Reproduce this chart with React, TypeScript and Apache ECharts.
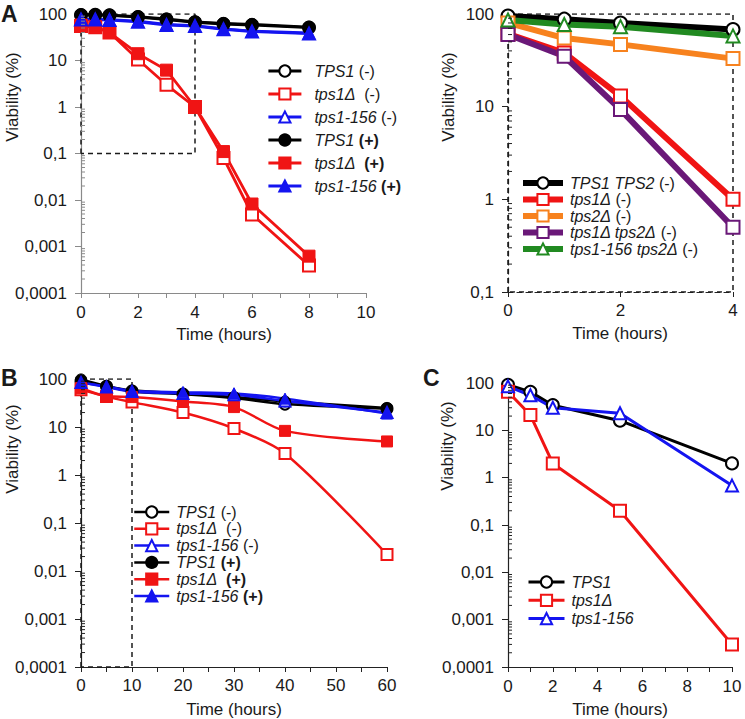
import React, { useEffect, useRef } from 'react';
import * as echarts from 'echarts';

// ---------- Panel A (left) ----------
const timeA = [0, 0.5, 1, 2, 3, 4, 5, 6, 8];
const aTPS1Minus = [95, 96, 94, 86, 76, 66, 61, 58, 51];
const aTPS1Plus = [97, 97, 95, 88, 78, 68, 63, 60, 52];
const aTps1dMinus = [55, 52, 40, 10.5, 3.0, 1.0, 0.08, 0.0049, 0.00039];
const aTps1dPlus = [58, 53, 40, 14, 6.2, 1.0, 0.11, 0.0082, 0.00062];
const aTps156Minus = [76, 76, 74, 68, 58, 55, 47, 42, 38];
const aTps156Plus = [78, 77, 76, 70, 60, 56, 48, 43, 39];
const zoomBoxA = { x: [0, 4], y: [0.1, 100] };

// ---------- Panel A (right, zoom) ----------
const timeR = [0, 1, 2, 4];
const rTPS1TPS2 = [95, 88, 80, 68];
const rTps1d = [61, 38, 13, 1.0];
const rTps2d = [80, 55, 47, 33];
const rTps1dTps2d = [60, 35, 9.3, 0.5];
const rTps156Tps2d = [86, 77, 73, 58];
const frameR = { x: [0, 4], y: [0.1, 100] };

// ---------- Panel B ----------
const timeB = [0, 5, 10, 20, 30, 40, 60];
const bTPS1Minus = [90, 70, 55, 48, 40, 30, 24];
const bTPS1Plus = [98, 72, 58, 50, 42, 34, 25];
const bTps1dMinus = [60, 43, 33, 20, 9.3, 2.8, 0.022];
const bTps1dPlus = [65, 44, 42, 34, 26, 8.3, 5.0];
const bTps156Minus = [85, 68, 55, 50, 47, 35, 20];
const bTps156Plus = [83, 70, 57, 53, 50, 39, 19];
const zoomBoxB = { x: [0, 10], y: [0.0001, 100] };

// ---------- Panel C ----------
const timeC = [0, 1, 2, 5, 10];
const cTPS1 = [92, 65, 34, 16, 2.0];
const cTps1d = [65, 21, 2.0, 0.2, 0.0003];
const cTps156 = [85, 55, 30, 23, 0.68];

// texts
const yTitle = 'Viability (%)';
const xTitle = 'Time (hours)';

const BLACK = '#000000';
const RED = '#f01414';
const BLUE = '#1414f0';
const ORANGE = '#f7821e';
const PURPLE = '#6a1878';
const GREEN = '#218a21';
const FONT = '"Liberation Sans", Arial, Helvetica, sans-serif';

const legendLabels: Record<string, string> = {
  'A:TPS1 (-)': '{i|TPS1} {n|(-)}',
  'A:tps1Δ (-)': '{i|tps1Δ}  {n|(-)}',
  'A:tps1-156 (-)': '{i|tps1-156} {n|(-)}',
  'A:TPS1 (+)': '{i|TPS1} {b|(+)}',
  'A:tps1Δ (+)': '{i|tps1Δ}  {b|(+)}',
  'A:tps1-156 (+)': '{i|tps1-156} {b|(+)}',
  'R:TPS1 TPS2 (-)': '{i|TPS1 TPS2} {n|(-)}',
  'R:tps1Δ (-)': '{i|tps1Δ} {n|(-)}',
  'R:tps2Δ (-)': '{i|tps2Δ} {n|(-)}',
  'R:tps1Δ tps2Δ (-)': '{i|tps1Δ tps2Δ} {n|(-)}',
  'R:tps1-156 tps2Δ (-)': '{i|tps1-156 tps2Δ} {n|(-)}',
  'B:TPS1 (-)': '{i|TPS1} {n|(-)}',
  'B:tps1Δ (-)': '{i|tps1Δ}  {n|(-)}',
  'B:tps1-156 (-)': '{i|tps1-156} {n|(-)}',
  'B:TPS1 (+)': '{i|TPS1} {b|(+)}',
  'B:tps1Δ (+)': '{i|tps1Δ}  {b|(+)}',
  'B:tps1-156 (+)': '{i|tps1-156} {b|(+)}',
  'C:TPS1': '{i|TPS1}',
  'C:tps1Δ': '{i|tps1Δ}',
  'C:tps1-156': '{i|tps1-156}',
};

function fmtLog(v: number): string {
  const n = Number(Number(v).toPrecision(4));
  return String(n).replace('.', ',');
}

function pairs(xs: number[], ys: number[]) {
  return xs.map((x, i) => [x, ys[i]]);
}

function boxData(b: { x: number[]; y: number[] }) {
  return [
    [b.x[0], b.y[0]],
    [b.x[0], b.y[1]],
    [b.x[1], b.y[1]],
    [b.x[1], b.y[0]],
    [b.x[0], b.y[0]],
  ];
}

function lineSeries(
  name: string,
  idx: number,
  xs: number[],
  ys: number[],
  color: string,
  symbol: string,
  open: boolean,
  size: number,
  width: number,
  smooth: number | boolean = false,
) {
  return {
    type: 'line',
    name,
    xAxisIndex: idx,
    yAxisIndex: idx,
    data: pairs(xs, ys),
    symbol,
    symbolSize: size,
    smooth,
    showSymbol: true,
    lineStyle: { color, width },
    itemStyle: open
      ? { color: '#ffffff', borderColor: color, borderWidth: 2 }
      : { color, borderColor: color, borderWidth: 1 },
    z: 3,
  };
}

function boxSeries(idx: number, b: { x: number[]; y: number[] }) {
  return {
    type: 'line',
    xAxisIndex: idx,
    yAxisIndex: idx,
    data: boxData(b),
    symbol: 'none',
    silent: true,
    lineStyle: { color: '#1a1a1a', width: 1.5, type: [5, 4] },
    z: 1,
  };
}

function minorTickSeries(idx: number, xMin: number, yMin: number, yMax: number, color: string) {
  const vals: number[][] = [];
  const k0 = Math.round(Math.log10(yMin));
  const k1 = Math.round(Math.log10(yMax));
  for (let k = k0; k < k1; k++) {
    for (let m = 2; m <= 9; m++) vals.push([xMin, Number((m * Math.pow(10, k)).toPrecision(3))]);
  }
  return {
    type: 'custom',
    xAxisIndex: idx,
    yAxisIndex: idx,
    silent: true,
    clip: false,
    data: vals,
    encode: { x: 0, y: 1 },
    z: 4,
    renderItem: (_p: any, api: any) => {
      const p = api.coord([api.value(0), api.value(1)]);
      return {
        type: 'line',
        shape: { x1: p[0], y1: p[1], x2: p[0] + 4, y2: p[1] },
        style: { stroke: color, lineWidth: 1 },
      };
    },
  };
}

function xAxisCfg(idx: number, min: number, max: number, interval: number, color: string, dashed = false, minor = true, margin = 12) {
  return {
    type: 'value',
    gridIndex: idx,
    min,
    max,
    interval,
    axisLine: { show: true, onZero: false, lineStyle: { color, width: 1.2, type: dashed ? [5, 4] : 'solid' } },
    axisTick: { show: true, length: 5, lineStyle: { color } },
    minorTick: { show: minor, splitNumber: 2, length: 5, lineStyle: { color } },
    splitLine: { show: false },
    axisLabel: { color: '#1a1a1a', fontSize: 17, fontFamily: FONT, margin },
  };
}

function yAxisCfg(idx: number, min: number, max: number, color: string, dashed = false) {
  return {
    type: 'log',
    logBase: 10,
    gridIndex: idx,
    min,
    max,
    axisLine: { show: true, onZero: false, lineStyle: { color, width: 1.2, type: dashed ? [5, 4] : 'solid' } },
    axisTick: { show: true, length: 6, lineStyle: { color } },
    splitLine: { show: false },
    axisLabel: { color: '#1a1a1a', fontSize: 17, fontFamily: FONT, margin: 14, formatter: fmtLog },
  };
}

function legendCfg(
  names: string[],
  left: number,
  top: number,
  itemWidth: number,
  lineHeight: number,
  gap: number,
  pad: number,
  lineWidth: number,
) {
  const base = { fontSize: 16, fontFamily: FONT, color: '#1a1a1a', lineHeight, fontWeight: 'normal' };
  return {
    data: names,
    orient: 'vertical',
    left,
    top,
    itemWidth,
    itemHeight: 14,
    itemGap: gap,
    selectedMode: false,
    padding: 0,
    lineStyle: { width: lineWidth },
    formatter: (n: string) => legendLabels[n] || n,
    textStyle: {
      ...base,
      padding: [0, 0, 0, pad],
      rich: {
        i: { ...base, fontStyle: 'italic' },
        n: { ...base },
        b: { ...base, fontWeight: 'bold' },
      },
    },
  };
}

function text(x: number, y: number, t: string, size: number, bold = false, rotate = false) {
  return {
    type: 'text',
    x,
    y,
    rotation: rotate ? Math.PI / 2 : 0,
    style: {
      text: t,
      font: `${bold ? 'bold ' : ''}${size}px ${FONT}`,
      fill: '#1a1a1a',
      textAlign: rotate || !bold ? 'center' : 'left',
      textVerticalAlign: rotate || !bold ? 'middle' : 'top',
    },
  };
}

export default function App() {
  const ref = useRef<HTMLDivElement>(null);
  useEffect(() => {
    if (!ref.current) return;
    const chart = echarts.init(ref.current, undefined, { renderer: 'svg' });
    const GREY = '#8a8a8a';
    const DARK = '#222222';

    const namesA = ['A:TPS1 (-)', 'A:tps1Δ (-)', 'A:tps1-156 (-)', 'A:TPS1 (+)', 'A:tps1Δ (+)', 'A:tps1-156 (+)'];
    const namesR = ['R:TPS1 TPS2 (-)', 'R:tps1Δ (-)', 'R:tps2Δ (-)', 'R:tps1Δ tps2Δ (-)', 'R:tps1-156 tps2Δ (-)'];
    const namesB = ['B:TPS1 (-)', 'B:tps1Δ (-)', 'B:tps1-156 (-)', 'B:TPS1 (+)', 'B:tps1Δ (+)', 'B:tps1-156 (+)'];
    const namesC = ['C:TPS1', 'C:tps1Δ', 'C:tps1-156'];

    const option: any = {
      animation: false,
      backgroundColor: '#ffffff',
      grid: [
        { left: 81, top: 14, width: 285, height: 279 },
        { left: 508, top: 14, width: 225, height: 278 },
        { left: 81, top: 379, width: 306, height: 288 },
        { left: 508, top: 383, width: 224, height: 284 },
      ],
      xAxis: [
        xAxisCfg(0, 0, 10, 2, GREY, false, true, 11),
        xAxisCfg(1, 0, 4, 2, DARK, true, false, 10),
        xAxisCfg(2, 0, 60, 10, DARK, false, true, 10),
        xAxisCfg(3, 0, 10, 2, DARK, false, true, 11),
      ],
      yAxis: [
        yAxisCfg(0, 0.0001, 100, GREY),
        yAxisCfg(1, 0.1, 100, DARK, true),
        yAxisCfg(2, 0.0001, 100, DARK),
        yAxisCfg(3, 0.0001, 100, DARK),
      ],
      legend: [
        legendCfg(namesA, 267, 63, 33, 16, 7, 8, 2.8),
        legendCfg(namesR, 520, 175, 40, 16, 0.5, 2, 6),
        legendCfg(namesB, 133, 504, 35, 15, 0.8, 2, 2.5),
        legendCfg(namesC, 527, 574, 36, 16, 2.3, 2, 3),
      ],
      graphic: [
        text(1, 2, 'A', 23, true),
        text(1, 366, 'B', 23, true),
        text(423, 366, 'C', 23, true),
        text(12, 97, yTitle, 17, false, true),
        text(448, 97, yTitle, 17, false, true),
        text(12, 449, yTitle, 17, false, true),
        text(447, 446, yTitle, 17, false, true),
        text(224, 334, xTitle, 17),
        text(620, 333, xTitle, 17),
        text(234, 709, xTitle, 17),
        text(620, 709, xTitle, 17),
      ],
      series: [
        // Panel A
        boxSeries(0, zoomBoxA),
        minorTickSeries(0, 0, 0.0001, 100, GREY),
        lineSeries('A:TPS1 (-)', 0, timeA, aTPS1Minus, BLACK, 'circle', true, 12, 2.8),
        lineSeries('A:TPS1 (+)', 0, timeA, aTPS1Plus, BLACK, 'circle', false, 12, 2.8),
        lineSeries('A:tps1Δ (-)', 0, timeA, aTps1dMinus, RED, 'rect', true, 12, 2.8),
        lineSeries('A:tps1Δ (+)', 0, timeA, aTps1dPlus, RED, 'rect', false, 12, 2.8),
        lineSeries('A:tps1-156 (-)', 0, timeA, aTps156Minus, BLUE, 'triangle', true, 12, 2.8),
        lineSeries('A:tps1-156 (+)', 0, timeA, aTps156Plus, BLUE, 'triangle', false, 12, 2.8),
        // Panel A right
        boxSeries(1, frameR),
        minorTickSeries(1, 0, 0.1, 100, DARK),
        lineSeries('R:TPS1 TPS2 (-)', 1, timeR, rTPS1TPS2, BLACK, 'circle', true, 13, 6),
        lineSeries('R:tps2Δ (-)', 1, timeR, rTps2d, ORANGE, 'rect', true, 13, 6),
        lineSeries('R:tps1Δ (-)', 1, timeR, rTps1d, RED, 'rect', true, 13, 6),
        lineSeries('R:tps1Δ tps2Δ (-)', 1, timeR, rTps1dTps2d, PURPLE, 'rect', true, 13, 6),
        lineSeries('R:tps1-156 tps2Δ (-)', 1, timeR, rTps156Tps2d, GREEN, 'triangle', true, 13, 6),
        // Panel B
        boxSeries(2, zoomBoxB),
        minorTickSeries(2, 0, 0.0001, 100, DARK),
        lineSeries('B:TPS1 (-)', 2, timeB, bTPS1Minus, BLACK, 'circle', true, 11, 2.5, 0.3),
        lineSeries('B:TPS1 (+)', 2, timeB, bTPS1Plus, BLACK, 'circle', false, 11, 2.5, 0.3),
        lineSeries('B:tps1Δ (-)', 2, timeB, bTps1dMinus, RED, 'rect', true, 11, 2.5, 0.3),
        lineSeries('B:tps1Δ (+)', 2, timeB, bTps1dPlus, RED, 'rect', false, 11, 2.5, 0.3),
        lineSeries('B:tps1-156 (-)', 2, timeB, bTps156Minus, BLUE, 'triangle', true, 11, 2.5, 0.3),
        lineSeries('B:tps1-156 (+)', 2, timeB, bTps156Plus, BLUE, 'triangle', false, 11, 2.5, 0.3),
        // Panel C
        minorTickSeries(3, 0, 0.0001, 100, DARK),
        lineSeries('C:TPS1', 3, timeC, cTPS1, BLACK, 'circle', true, 12, 3),
        lineSeries('C:tps1Δ', 3, timeC, cTps1d, RED, 'rect', true, 12, 3),
        lineSeries('C:tps1-156', 3, timeC, cTps156, BLUE, 'triangle', true, 12, 3),
      ],
    };
    chart.setOption(option);
    return () => chart.dispose();
  }, []);
  return (
    <div
      ref={ref}
      style={{ position: 'fixed', left: 0, top: 0, width: 745, height: 719, background: '#fff' }}
    />
  );
}
